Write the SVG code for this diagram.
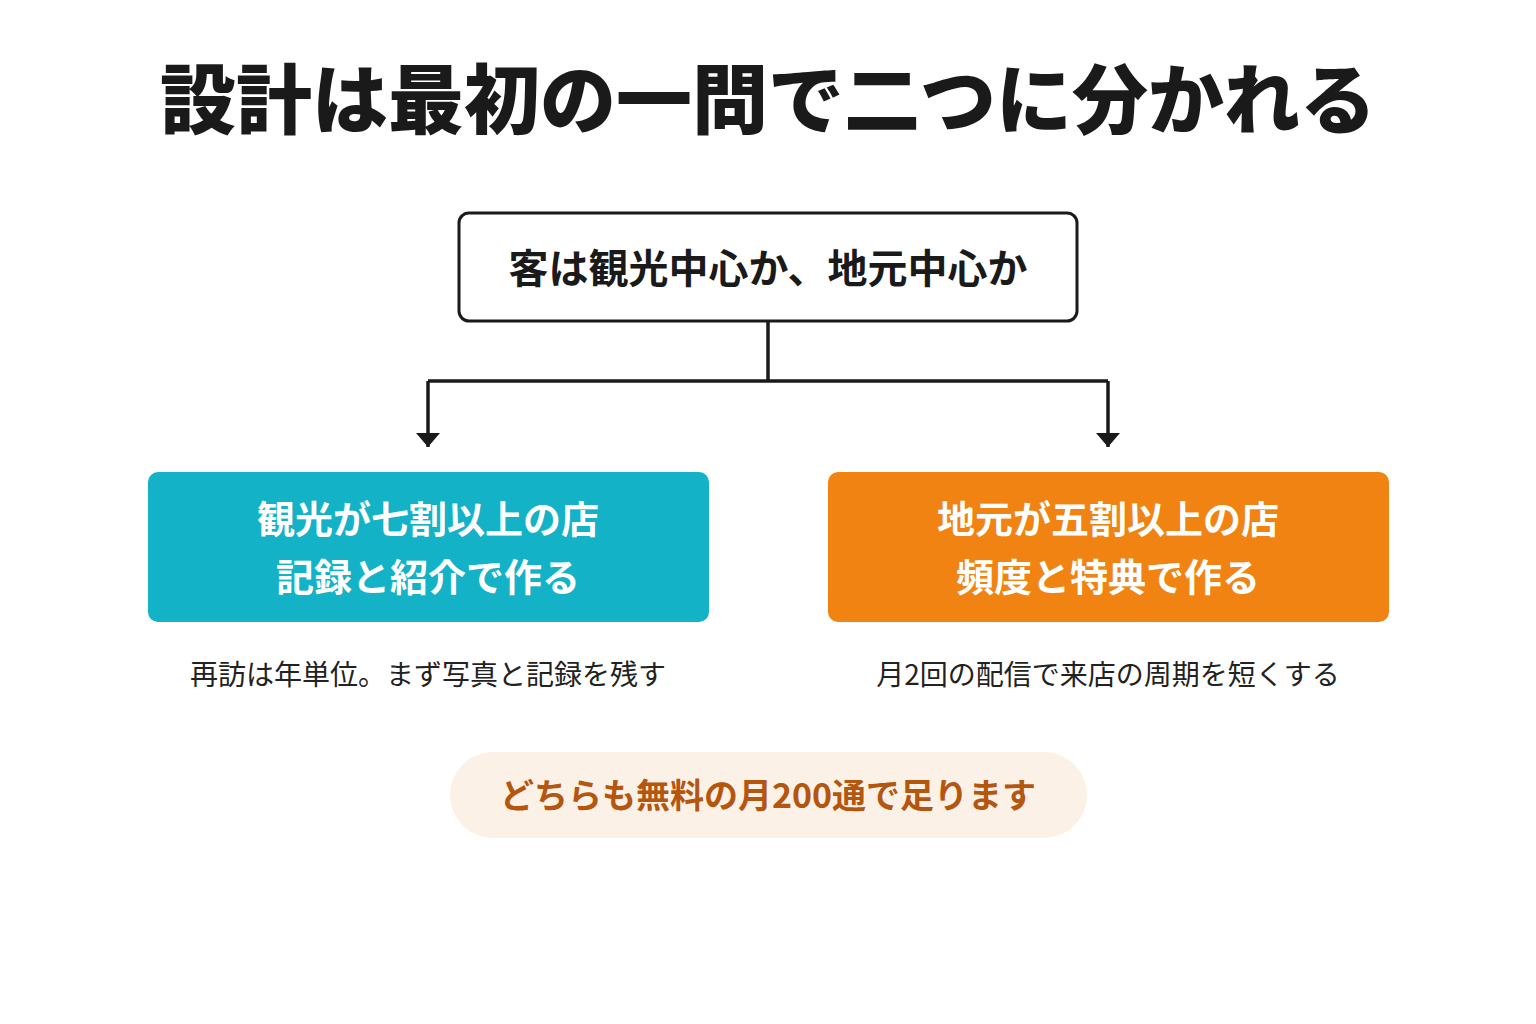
<svg xmlns="http://www.w3.org/2000/svg" width="1536" height="1024" viewBox="0 0 1536 1024">
<style>
text{font-family:"Noto Sans CJK JP","Noto Sans",sans-serif;text-anchor:middle}
.t{font-size:76px;font-weight:900;fill:#1a1a1a}
.q{font-size:40px;font-weight:700;fill:#1a1a1a}
.b{font-size:38px;font-weight:700;fill:#fff}
.s{font-size:28px;font-weight:400;fill:#222}
.p{font-size:34px;font-weight:700;fill:#b5560f}
.c{stroke:#1a1a1a;stroke-width:3.5;fill:none}
</style>
<defs><marker id="a" viewBox="0 0 10 10" refX="5" refY="10" markerWidth="7" markerHeight="4.5" markerUnits="userSpaceOnUse" orient="auto"><path d="M0,0 L10,0 L5,10 z" fill="#1a1a1a"/></marker>
<marker id="ah" viewBox="0 0 24 14" refX="12" refY="14" markerWidth="24" markerHeight="14" markerUnits="userSpaceOnUse" orient="0"><path d="M0,0 L24,0 L12,14 z" fill="#1a1a1a"/></marker></defs>
<rect width="1536" height="1024" fill="#fff"/>
<text class="t" x="768" y="128">設計は最初の一問で二つに分かれる</text>
<g id="q"><rect x="459" y="213" width="618" height="108" rx="10" fill="#fff" stroke="#1a1a1a" stroke-width="3"/><text class="q" x="768" y="283">客は観光中心か、地元中心か</text></g>
<g id="connectors">
<path class="c" d="M768,321 V381 M428,381 H1108"/>
<path class="c" d="M428,381 V447" marker-end="url(#ah)"/>
<path class="c" d="M1108,381 V447" marker-end="url(#ah)"/>
</g>
<g id="left"><rect x="148" y="472" width="561" height="150" rx="10" fill="#13b2c6"/><text class="b" x="428" y="533">観光が七割以上の店</text><text class="b" x="428" y="591">記録と紹介で作る</text></g>
<g id="right"><rect x="828" y="472" width="561" height="150" rx="10" fill="#f08312"/><text class="b" x="1108" y="533">地元が五割以上の店</text><text class="b" x="1108" y="591">頻度と特典で作る</text></g>
<text class="s" x="428" y="685">再訪は年単位。まず写真と記録を残す</text>
<text class="s" x="1108" y="685">月2回の配信で来店の周期を短くする</text>
<g id="note"><rect x="450" y="752" width="637" height="86" rx="43" fill="#fcf1e6"/><text class="p" x="768" y="808">どちらも無料の月200通で足ります</text></g>
</svg>
